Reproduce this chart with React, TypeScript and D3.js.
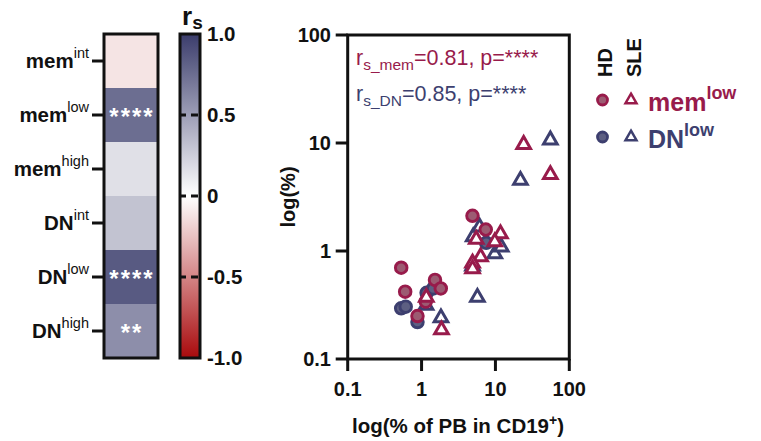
import React from "react";
import * as d3 from "d3";

const FONT = "'Liberation Sans', Arial, Helvetica, sans-serif";

// Heatmap
const heatBase = ["mem", "mem", "mem", "DN", "DN", "DN"];
const heatSup = ["int", "low", "high", "int", "low", "high"];
const heatValues = [-0.11, 0.75, 0.16, 0.31, 0.85, 0.58];
const heatStars = ["", "****", "", "", "****", "**"];

// Colour bar
const cbTicks = [1, 0.5, 0, -0.5, -1];
const cbLabels = ["1.0", "0.5", "0", "-0.5", "-1.0"];

// Scatter series
const memHD_x = [4.89, 7.4, 0.53, 0.6, 1.52, 1.82, 0.88, 1.14];
const memHD_y = [2.12, 1.58, 0.7, 0.42, 0.54, 0.45, 0.25, 0.34];
const dnHD_x = [0.53, 0.61, 0.88, 1.17, 1.44, 7.5];
const dnHD_y = [0.295, 0.305, 0.22, 0.41, 0.45, 1.19];
const memSLE_x = [24.1, 55.4, 11.7, 9.8, 6.3, 5.5, 4.9, 4.9, 1.16, 1.86];
const memSLE_y = [9.9, 5.2, 1.47, 1.24, 0.9, 1.31, 0.79, 0.7, 0.38, 0.19];
const dnSLE_x = [55.4, 21.8, 5.0, 6.1, 9.8, 12.0, 4.9, 5.7, 1.83, 1.15];
const dnSLE_y = [10.9, 4.6, 1.38, 1.7, 0.96, 1.11, 0.74, 0.38, 0.246, 0.32];

const logTicks = [0.1, 1, 10, 100];
const logTickLabels = ["0.1", "1", "10", "100"];

const MEM = "#981b4b";
const DN = "#3d3f6f";
const MEM_FILL = "#9c5b72";
const DN_FILL = "#5d5f82";

export default function App() {
  // heatmap geometry
  const hmX = 104, hmW = 54, hmTop = 34, hmBot = 358;
  const rowBand = d3.scaleBand<number>().domain(d3.range(heatValues.length)).range([hmTop, hmBot]);
  const color = d3.scaleLinear<string>().domain([-1, 0, 1]).range(["#a80a0c", "#ffffff", "#3b3d6c"]);
  const cbX = 180, cbW = 20;
  const cbY = d3.scaleLinear().domain([-1, 1]).range([hmBot, hmTop]);
  const gradStops = d3.range(0, 1.0001, 0.05);

  // scatter geometry
  const x = d3.scaleLog().domain([0.1, 100]).range([347.7, 569.3]);
  const y = d3.scaleLog().domain([0.1, 100]).range([359, 35]);
  const tri = d3.symbol().type(d3.symbolTriangle).size(80)() as string;
  const legTri = d3.symbol().type(d3.symbolTriangle).size(52)() as string;

  const circles = (xs: number[], ys: number[], stroke: string, fill: string, key: string) =>
    xs.map((v, i) => (
      <circle key={key + i} cx={x(v)} cy={y(ys[i])} r={5.8} fill={fill} stroke={stroke} strokeWidth={2.9} />
    ));
  const triangles = (xs: number[], ys: number[], stroke: string, key: string) =>
    xs.map((v, i) => (
      <path key={key + i} d={tri} transform={`translate(${x(v)},${y(ys[i]) + 1})`} fill="white" stroke={stroke} strokeWidth={3} strokeLinejoin="miter" />
    ));

  return (
    <svg width={761} height={441} style={{ position: "absolute", left: 0, top: 0, background: "white" }} fontFamily={FONT}>
      <defs>
        <linearGradient id="cb" x1="0" y1="1" x2="0" y2="0">
          {gradStops.map((t) => (
            <stop key={t} offset={t} stopColor={color(-1 + 2 * t)} />
          ))}
        </linearGradient>
      </defs>

      {/* Heatmap */}
      {heatValues.map((v, i) => (
        <rect key={"h" + i} x={hmX} y={rowBand(i)!} width={hmW} height={rowBand.bandwidth() + 0.5} fill={color(v)} />
      ))}
      <rect x={hmX} y={hmTop} width={hmW} height={hmBot - hmTop} fill="none" stroke="#111" strokeWidth={3} />
      {heatValues.map((v, i) => {
        const cy = rowBand(i)! + rowBand.bandwidth() / 2;
        return (
          <g key={"hl" + i}>
            <line x1={92} x2={hmX} y1={cy} y2={cy} stroke="#111" strokeWidth={3} />
            <text x={89} y={cy + 7} textAnchor="end" fontWeight="bold" fontSize={20.5} fill="#111">
              {heatBase[i]}
              <tspan fontSize={14.5} fontWeight="normal" dy={-10}>{heatSup[i]}</tspan>
            </text>
            {heatStars[i] && (
              <text x={hmX + hmW / 2 + 1} y={cy + 10} textAnchor="middle" fontWeight="bold" fontSize={24} letterSpacing={2} fill="white">
                {heatStars[i]}
              </text>
            )}
          </g>
        );
      })}

      {/* Colour bar */}
      <rect x={cbX} y={hmTop} width={cbW} height={hmBot - hmTop} fill="url(#cb)" stroke="#111" strokeWidth={3} />
      {cbTicks.map((t, i) => (
        <g key={"cb" + i}>
          {Math.abs(t) < 1 && (
            <line x1={cbX - 1} x2={cbX + cbW + 3} y1={cbY(t)} y2={cbY(t)} stroke="#111" strokeWidth={3} strokeDasharray="7,5" />
          )}
          <text x={207} y={cbY(t) + 7} fontWeight="bold" fontSize={20.5} fill="#111">{cbLabels[i]}</text>
        </g>
      ))}
      <text x={182} y={25} fontWeight="bold" fontSize={26} fill="#111">
        r<tspan fontSize={19} dy={4}>s</tspan>
      </text>

      {/* Scatter frame */}
      <rect x={x(0.1)} y={y(100)} width={x(100) - x(0.1)} height={y(0.1) - y(100)} fill="none" stroke="#111" strokeWidth={3} />
      {logTicks.map((t, i) => (
        <g key={"xt" + i}>
          <line x1={x(t)} x2={x(t)} y1={y(0.1)} y2={y(0.1) + 12} stroke="#111" strokeWidth={3} />
          <text x={x(t)} y={396} textAnchor="middle" fontWeight="bold" fontSize={20} fill="#111">{logTickLabels[i]}</text>
          <line x1={x(0.1) - 12} x2={x(0.1)} y1={y(t)} y2={y(t)} stroke="#111" strokeWidth={3} />
          <text x={331} y={y(t) + 7} textAnchor="end" fontWeight="bold" fontSize={20} fill="#111">{logTickLabels[i]}</text>
        </g>
      ))}
      <text x={458} y={433} textAnchor="middle" fontWeight="bold" fontSize={20.5} fill="#111">
        log(% of PB in CD19<tspan fontSize={14} dy={-8}>+</tspan><tspan dy={8}>)</tspan>
      </text>
      <text transform={`translate(295,197) rotate(-90)`} textAnchor="middle" fontWeight="bold" fontSize={20} fill="#111">
        log(%)
      </text>

      {/* Points */}
      {circles(dnHD_x, dnHD_y, DN, DN_FILL, "dh")}
      {triangles(dnSLE_x, dnSLE_y, DN, "ds")}
      {circles(memHD_x, memHD_y, MEM, MEM_FILL, "mh")}
      {triangles(memSLE_x, memSLE_y, MEM, "ms")}

      {/* Annotations */}
      <text x={356} y={65} fontSize={21.5} fill={MEM}>
        r<tspan fontSize={15.5} dy={5}>s_mem</tspan><tspan dy={-5}>=0.81, p=****</tspan>
      </text>
      <text x={356} y={101} fontSize={21.5} fill={DN}>
        r<tspan fontSize={15.5} dy={5}>s_DN</tspan><tspan dy={-5}>=0.85, p=****</tspan>
      </text>

      {/* Legend */}
      <text transform="translate(612,77) rotate(-90)" fontWeight="bold" fontSize={20} fill="#111">HD</text>
      <text transform="translate(641,77) rotate(-90)" fontWeight="bold" fontSize={20} fill="#111">SLE</text>
      <circle cx={602.5} cy={100} r={5} fill={MEM_FILL} stroke={MEM} strokeWidth={2.8} />
      <path d={legTri} transform="translate(631,100)" fill="white" stroke={MEM} strokeWidth={2.5} />
      <text x={648} y={111} fontWeight="bold" fontSize={25} fill={MEM}>
        mem<tspan fontSize={18} dy={-12}>low</tspan>
      </text>
      <circle cx={602.5} cy={137} r={5} fill={DN_FILL} stroke={DN} strokeWidth={2.8} />
      <path d={legTri} transform="translate(631,137)" fill="white" stroke={DN} strokeWidth={2.5} />
      <text x={648} y={148} fontWeight="bold" fontSize={25} fill={DN}>
        DN<tspan fontSize={18} dy={-12}>low</tspan>
      </text>
    </svg>
  );
}
